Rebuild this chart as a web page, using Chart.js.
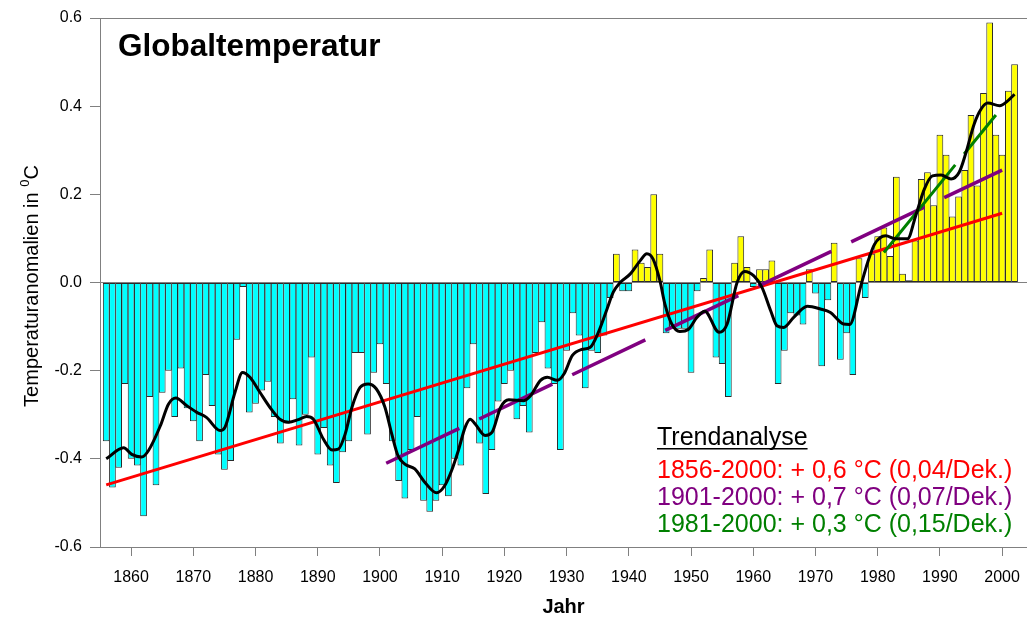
<!DOCTYPE html>
<html>
<head>
<meta charset="utf-8">
<script src="https://cdn.jsdelivr.net/npm/chart.js@4.4.0/dist/chart.umd.min.js"></script>
<style>
  html, body { margin: 0; padding: 0; background: #fff; }
  #wrap { width: 1027px; height: 619px; }
</style>
</head>
<body>
<div id="wrap"><canvas id="chart" width="1027" height="619"></canvas></div>
<script>
// yearly anomalies 1856-2002
const firstYear = 1856;
const anomalies = [
  -0.36, -0.465, -0.42, -0.23,                                            // 1856-1859
  -0.40, -0.415, -0.53, -0.26, -0.46, -0.25, -0.20, -0.305, -0.195, -0.285, // 1860s
  -0.315, -0.36, -0.21, -0.28, -0.39, -0.425, -0.405, -0.13, -0.01, -0.295, // 1870s
  -0.275, -0.245, -0.225, -0.305, -0.365, -0.32, -0.265, -0.37, -0.30, -0.17, // 1880s
  -0.39, -0.33, -0.415, -0.455, -0.385, -0.36, -0.16, -0.16, -0.345, -0.205,  // 1890s
  -0.14, -0.23, -0.36, -0.45, -0.49, -0.38, -0.305, -0.495, -0.52, -0.495,    // 1900s
  -0.46, -0.485, -0.40, -0.415, -0.24, -0.14, -0.365, -0.48, -0.38, -0.27,    // 1910s
  -0.23, -0.20, -0.31, -0.28, -0.34, -0.16, -0.09, -0.195, -0.23, -0.38,      // 1920s
  -0.155, -0.07, -0.12, -0.24, -0.155, -0.16, -0.12, -0.035, 0.065, -0.02,    // 1930s
  -0.02, 0.075, 0.045, 0.035, 0.20, 0.065, -0.115, -0.105, -0.105, -0.105,    // 1940s
  -0.205, -0.02, 0.01, 0.075, -0.17, -0.185, -0.26, 0.045, 0.105, 0.035,      // 1950s
  -0.01, 0.03, 0.03, 0.05, -0.23, -0.155, -0.07, -0.075, -0.095, 0.03,        // 1960s
  -0.025, -0.19, -0.04, 0.09, -0.175, -0.115, -0.21, 0.055, -0.035, 0.065,    // 1970s
  0.105, 0.125, 0.06, 0.24, 0.02, 0.005, 0.095, 0.235, 0.25, 0.175,           // 1980s
  0.335, 0.29, 0.15, 0.195, 0.255, 0.38, 0.22, 0.43, 0.59, 0.335,             // 1990s
  0.29, 0.435, 0.495                                                          // 2000-2002
];
const years = anomalies.map((v, i) => firstYear + i);

// smoothed curve, read at points along the black line
const smoothYears = [
  1856, 1858.8, 1860.1, 1861.7, 1862.8, 1864.7, 1866, 1867.2, 1868.9, 1870.5,
  1872.1, 1874.3, 1875.1, 1876.7, 1877.9, 1879.1, 1880.7, 1882.3, 1883.9, 1885.3,
  1886.9, 1888.2, 1889.3, 1890.9, 1892.3, 1893.3, 1894.4, 1895.5, 1896.8, 1898.1,
  1899.4, 1900.8, 1901.9, 1902.9, 1904, 1905.6, 1907.2, 1909.1, 1910.4, 1911.5,
  1912.6, 1913.7, 1914.5, 1915.3, 1916.9, 1918, 1919.4, 1920.7, 1923.1, 1924.2,
  1925.8, 1926.9, 1928.5, 1929.6, 1930.9, 1932.4, 1933.8, 1935.1, 1936.5, 1937.5,
  1938.6, 1940.2, 1941.8, 1942.9, 1943.9, 1945, 1945.8, 1946.9, 1948.2, 1949.6,
  1950.9, 1952.2, 1954.5, 1955.8, 1957.4, 1958.6, 1960.1, 1961.4, 1962.8, 1963.8,
  1964.9, 1966.5, 1968.7, 1970.8, 1972.4, 1974.5, 1975.5, 1977.3, 1978.4, 1979.5,
  1981.3, 1982.9, 1984.8, 1986.1, 1987.5, 1988.8, 1990.2, 1991.8, 1993.1, 1994.2,
  1995.5, 1996.6, 1997.7, 1999.6, 2000.9, 2002
];
const smoothValues = [
  -0.40, -0.375, -0.39, -0.396, -0.381, -0.325, -0.276, -0.262, -0.279, -0.294,
  -0.306, -0.336, -0.328, -0.249, -0.204, -0.215, -0.249, -0.283, -0.31, -0.317,
  -0.311, -0.304, -0.31, -0.355, -0.38, -0.378, -0.344, -0.283, -0.238, -0.23,
  -0.241, -0.283, -0.344, -0.393, -0.412, -0.423, -0.453, -0.477, -0.461, -0.427,
  -0.381, -0.328, -0.31, -0.321, -0.347, -0.34, -0.283, -0.266, -0.268, -0.257,
  -0.222, -0.215, -0.222, -0.207, -0.166, -0.152, -0.147, -0.113, -0.06, -0.022,
  0.0, 0.019, 0.049, 0.065, 0.053, 0.004, -0.049, -0.094, -0.111, -0.106,
  -0.08, -0.065, -0.113, -0.094, 0.0, 0.025, 0.015, -0.011, -0.064, -0.098,
  -0.102, -0.079, -0.054, -0.06, -0.068, -0.094, -0.095, -0.007, 0.046, 0.087,
  0.106, 0.099, 0.099, 0.151, 0.212, 0.242, 0.244, 0.235, 0.25, 0.295,
  0.359, 0.393, 0.407, 0.401, 0.412, 0.427
];

// trend lines: [start year, start value], [end year, end value]
const trendRed = [[1856, -0.459], [2000, 0.157]];
const trendPurple = [[1901, -0.41], [2000, 0.255]];
const trendGreen = [[1981, 0.068], [1999, 0.38]];

const xTicks = [1860, 1870, 1880, 1890, 1900, 1910, 1920, 1930, 1940, 1950, 1960, 1970, 1980, 1990, 2000];
const yTicks = [-0.6, -0.4, -0.2, 0.0, 0.2, 0.4, 0.6];

const chartTitle = 'Globaltemperatur';
const xTitle = 'Jahr';
const legendHead = 'Trendanalyse';
const legendLines = [
  { text: '1856-2000: + 0,6 °C (0,04/Dek.)', color: '#ff0000' },
  { text: '1901-2000: + 0,7 °C (0,07/Dek.)', color: '#800080' },
  { text: '1981-2000: + 0,3 °C (0,15/Dek.)', color: '#008000' }
];

const FONT = '"Liberation Sans", Arial, sans-serif';
const toPts = arr => arr.map(p => ({ x: p[0], y: p[1] }));

const textPlugin = {
  id: 'texts',
  afterDraw(chart) {
    const c = chart.ctx;
    c.save();
    c.fillStyle = '#000';
    c.textBaseline = 'alphabetic';

    c.font = 'bold 31.5px ' + FONT;
    c.fillText(chartTitle, 118, 56);

    // x title
    c.font = 'bold 20px ' + FONT;
    c.textAlign = 'center';
    c.fillText(xTitle, (chart.chartArea.left + chart.chartArea.right) / 2, 613);

    // y title with superscript 0
    c.save();
    c.translate(38, 286);
    c.rotate(-Math.PI / 2);
    c.textAlign = 'left';
    c.font = '20px ' + FONT;
    const main = 'Temperaturanomalien in ';
    const w1 = c.measureText(main).width;
    c.font = '13px ' + FONT;
    const w2 = c.measureText('0').width;
    c.font = '20px ' + FONT;
    const w3 = c.measureText('C').width;
    let x0 = -(w1 + w2 + w3) / 2;
    c.fillText(main, x0, 0);
    c.font = '13px ' + FONT;
    c.fillText('0', x0 + w1, -9);
    c.font = '20px ' + FONT;
    c.fillText('C', x0 + w1 + w2, 0);
    c.restore();

    // trend legend
    c.textAlign = 'left';
    c.font = '25px ' + FONT;
    c.fillText(legendHead, 657, 445);
    const hw = c.measureText(legendHead).width;
    c.fillRect(657, 448, hw, 1.5);
    legendLines.forEach((l, i) => {
      c.fillStyle = l.color;
      c.fillText(l.text, 657, 478 + i * 27);
    });
    c.restore();
  }
};

new Chart(document.getElementById('chart'), {
  type: 'bar',
  data: {
    datasets: [
      {
        type: 'line',
        data: smoothYears.map((y, i) => ({ x: y, y: smoothValues[i] })),
        borderColor: '#000',
        borderWidth: 3,
        pointRadius: 0,
        cubicInterpolationMode: 'monotone',
        order: 0
      },
      {
        type: 'line',
        data: toPts(trendGreen),
        borderColor: '#008000',
        borderWidth: 3,
        borderDash: [113, 14],
        pointRadius: 0,
        order: 1
      },
      {
        type: 'line',
        data: toPts(trendPurple),
        borderColor: '#800080',
        borderWidth: 3.5,
        borderDash: [81, 22],
        pointRadius: 0,
        order: 2
      },
      {
        type: 'line',
        data: toPts(trendRed),
        borderColor: '#ff0000',
        borderWidth: 3,
        pointRadius: 0,
        order: 3
      },
      {
        type: 'bar',
        data: years.map((y, i) => ({ x: y, y: anomalies[i] })),
        backgroundColor: anomalies.map(v => v >= 0 ? '#ffff00' : '#00ffff'),
        borderColor: '#2a2a2a',
        borderWidth: 1,
        borderSkipped: false,
        barPercentage: 1.08,
        categoryPercentage: 1,
        order: 10
      }
    ]
  },
  options: {
    responsive: false,
    animation: false,
    devicePixelRatio: 1,
    layout: { padding: { top: 18, right: 0, left: 0, bottom: 0 } },
    plugins: { legend: { display: false }, tooltip: { enabled: false } },
    scales: {
      x: {
        type: 'linear',
        offset: false,
        min: 1855,
        max: 2004,
        afterBuildTicks: s => { s.ticks = xTicks.map(v => ({ value: v })); },
        afterFit: s => { s.height = 72; s.paddingLeft = 0; s.paddingRight = 0; },
        grid: { drawOnChartArea: false, tickLength: 9, tickColor: '#808080', offset: false },
        border: { color: '#808080' },
        ticks: {
          color: '#000',
          font: { family: FONT, size: 16 },
          padding: 12,
          maxRotation: 0,
          callback: v => String(v)
        }
      },
      y: {
        min: -0.6,
        max: 0.6,
        afterBuildTicks: s => { s.ticks = yTicks.map(v => ({ value: v })); },
        afterFit: s => { s.width = 100; },
        grid: {
          color: ctx => (ctx.tick && (Math.abs(ctx.tick.value) < 1e-9 || Math.abs(ctx.tick.value - 0.6) < 1e-9)) ? '#808080' : 'rgba(0,0,0,0)',
          tickColor: '#808080',
          tickLength: 10
        },
        border: { color: '#808080' },
        ticks: {
          color: '#000',
          font: { family: FONT, size: 16 },
          padding: 8,
          callback: v => v.toFixed(1)
        }
      }
    }
  },
  plugins: [textPlugin]
});
</script>
</body>
</html>
